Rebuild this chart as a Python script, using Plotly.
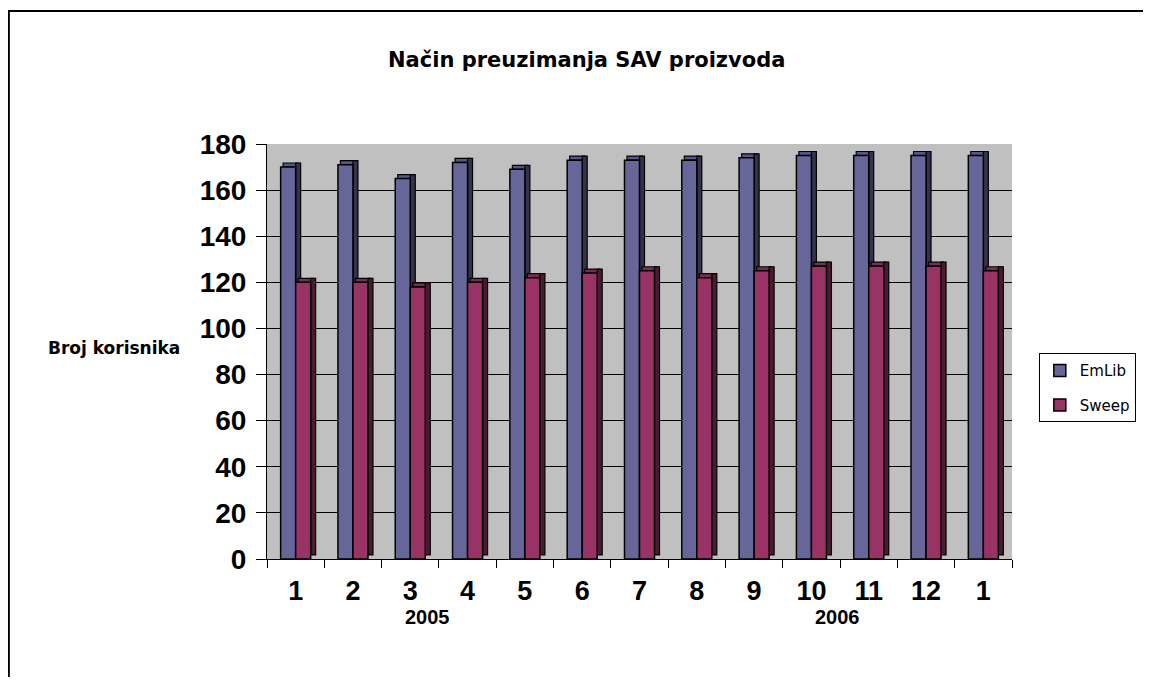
import plotly.graph_objects as go

months = ["1", "2", "3", "4", "5", "6", "7", "8", "9", "10", "11", "12", "1"]
emlib = [170, 171, 165, 172, 169, 173, 173, 173, 174, 175, 175, 175, 175]
sweep = [120, 120, 118, 120, 122, 124, 125, 122, 125, 127, 127, 127, 125]
years = ["2005", "2006"]
year_pos = [2.3, 9.45]
series_names = ["EmLib", "Sweep"]

W = 0.262   # front face width (category units)
DX = 0.087  # depth in x
DY = 1.75   # depth in y (value units)

x = list(range(len(months)))
n = len(x)

styles = {
    "EmLib": dict(front="#666699", side="#33334d", top="#56568a", off=-W),
    "Sweep": dict(front="#993366", side="#4d1a33", top="#7d2a55", off=0.0),
}

fig = go.Figure()
line = dict(color="black", width=1.2)
for name, vals in zip(series_names, [emlib, sweep]):
    st = styles[name]
    fig.add_trace(go.Bar(x=x, y=[DY] * n, base=vals, width=W, offset=st["off"] + DX * 0.5,
                         marker=dict(color=st["top"], line=line), showlegend=False,
                         hoverinfo="skip"))
    fig.add_trace(go.Bar(x=x, y=vals, base=[DY] * n, width=DX, offset=st["off"] + W,
                         marker=dict(color=st["side"], line=line), showlegend=False,
                         hoverinfo="skip"))
    fig.add_trace(go.Bar(x=x, y=vals, width=W, offset=st["off"], name=name, legendgroup=name,
                         marker=dict(color=st["front"], line=dict(color="black", width=1.5))))

font_family = "Liberation Sans, Arial, sans-serif"
wide_family = "DejaVu Sans, sans-serif"

fig.update_layout(
    width=1143, height=669,
    barmode="overlay",
    paper_bgcolor="white",
    plot_bgcolor="#C0C0C0",
    margin=dict(l=259, r=139, t=136, b=118),
    font=dict(family=font_family, color="black"),
    showlegend=True,
    legend=dict(x=1.036, y=0.496, xanchor="left", yanchor="top",
                bordercolor="black", borderwidth=1, bgcolor="white",
                font=dict(size=15, family=wide_family), tracegroupgap=12,
                itemwidth=30),
    xaxis=dict(range=[-0.5, n - 0.5], tickvals=x, ticktext=months, ticks="",
               ticklabelstandoff=8,
               tickfont=dict(size=27, family=font_family, weight="bold"),
               showgrid=False, showline=True, linecolor="black", linewidth=1,
               zeroline=False,
               minor=dict(ticks="outside", tick0=-0.5, dtick=1, ticklen=8,
                          tickcolor="black", showgrid=False)),
    yaxis=dict(range=[0, 180], dtick=20, ticks="outside", ticklen=10, tickcolor="black",
               ticklabelstandoff=4,
               tickfont=dict(size=28, family=font_family, weight="bold"),
               showgrid=True, gridcolor="black", gridwidth=1,
               showline=True, linecolor="black", linewidth=1, zeroline=False),
)

fig.add_annotation(text="<b>Način preuzimanja SAV proizvoda</b>", xref="paper", yref="paper",
                   x=0.4295, y=1.202, xanchor="center", yanchor="middle",
                   showarrow=False, font=dict(size=21, family=wide_family))
fig.add_annotation(text="<b>Broj korisnika</b>", xref="paper", yref="paper",
                   x=-0.205, y=0.508, xanchor="center", yanchor="middle",
                   showarrow=False, font=dict(size=17, family=wide_family))
for yr, pos in zip(years, year_pos):
    fig.add_annotation(text="<b>" + yr + "</b>", xref="x", yref="paper", x=pos, y=-0.14,
                       xanchor="center", yanchor="middle",
                       showarrow=False, font=dict(size=20, family=font_family))

fig.add_shape(type="rect", xref="paper", yref="paper", x0=-0.3465, y0=-0.6, x1=1.4, y1=1.3205,
              line=dict(color="black", width=2), layer="below")

fig.write_html("out.html")
